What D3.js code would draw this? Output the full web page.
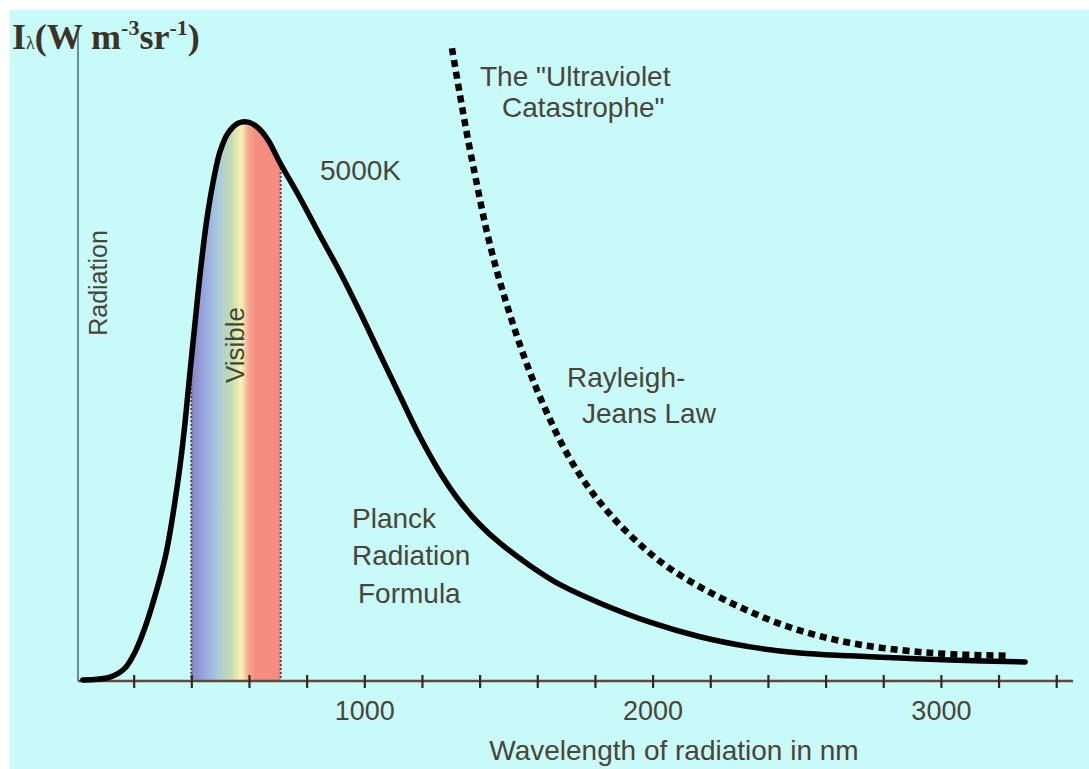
<!DOCTYPE html>
<html>
<head>
<meta charset="utf-8">
<script src="https://cdn.jsdelivr.net/npm/d3@7"></script>
<style>
	body { margin: 0; background: #ffffff; }
	svg text { font-family: 'Liberation Sans', Arial, sans-serif; }
</style>
</head>
<body>
<div id="chart-area"></div>
<script>
// Planck curve at 5000K, wavelength in nm, radiation in arbitrary units
const planckWavelengths = [24, 118, 170, 205, 239, 274, 309, 326, 343, 361, 378, 395, 413, 430, 454, 479, 500, 527, 562, 597, 631, 666, 708, 777, 846, 916, 985, 1054, 1124, 1193, 1263, 1332, 1401, 1471, 1575, 1679, 1818, 1991, 2164, 2338, 2511, 2685, 2858, 3032, 3292];
const planckValues = [0.2, 0.7, 2.3, 5.2, 9.5, 15.2, 22, 26.5, 32, 38.5, 46, 55, 64, 72.5, 82.5, 90, 94.6, 97.8, 99.6, 99.8, 98.8, 96.6, 92.5, 86.25, 79.6, 73, 65.9, 58.4, 50.9, 43.6, 37.2, 32, 27.9, 24.6, 20.6, 17.2, 13.9, 10.5, 7.9, 6.1, 5, 4.5, 4.1, 3.75, 3.4];

// Rayleigh-Jeans law (dashed)
const rjWavelengths = [1304, 1332, 1360, 1391, 1422, 1457, 1495, 1540, 1585, 1637, 1696, 1766, 1845, 1939, 2043, 2164, 2303, 2442, 2581, 2730, 2882, 3032, 3233];
const rjValues = [113, 104.6, 96.6, 88.6, 80.9, 73.75, 67.1, 60, 53.75, 47.5, 41.25, 35.4, 30.2, 25.2, 20.7, 16.8, 13.2, 10.2, 8, 6.4, 5.4, 4.8, 4.5];

// axis
const tickValues = [200, 400, 600, 800, 1000, 1200, 1400, 1600, 1800, 2000, 2200, 2400, 2600, 2800, 3000, 3200, 3400];
const tickLabels = ['1000', '2000', '3000'];
const xDomain = [0, 3460];
const yDomain = [0, 100];

// visible band (nm)
const visibleRange = [400, 710];

class PlanckVis {
	constructor(parentElement) {
		this.parentElement = parentElement;
		this.initVis();
	}

	initVis() {
		let vis = this;

		vis.width = 1089;
		vis.height = 769;
		vis.textColor = '#4a4536';

		vis.svg = d3
			.select('#' + vis.parentElement)
			.append('svg')
			.attr('width', vis.width)
			.attr('height', vis.height);

		// background, white strip on top and left
		vis.svg.append('rect').attr('width', vis.width).attr('height', vis.height).attr('fill', '#ffffff');
		vis.svg
			.append('rect')
			.attr('x', 10)
			.attr('y', 10)
			.attr('width', vis.width - 10)
			.attr('height', vis.height - 10)
			.attr('fill', '#c8fafa');

		vis.x = d3.scaleLinear().domain(xDomain).range([76, 76 + 0.2883 * xDomain[1]]);
		vis.y = d3.scaleLinear().domain(yDomain).range([681, 121]);

		vis.wrangleData();
	}

	wrangleData() {
		let vis = this;

		vis.planck = planckWavelengths.map((d, i) => ({ nm: d, value: planckValues[i] }));
		vis.rj = rjWavelengths.map((d, i) => ({ nm: d, value: rjValues[i] }));

		vis.updateVis();
	}

	updateVis() {
		let vis = this;

		vis.line = d3
			.line()
			.x((d) => vis.x(d.nm))
			.y((d) => vis.y(d.value))
			.curve(d3.curveCatmullRom.alpha(0.5));

		vis.area = d3
			.area()
			.x((d) => vis.x(d.nm))
			.y0(vis.y(0))
			.y1((d) => vis.y(d.value))
			.curve(d3.curveCatmullRom.alpha(0.5));

		vis.drawVisibleBand();
		vis.drawAxes();

		// Rayleigh-Jeans (dashed)
		vis.svg
			.append('path')
			.datum(vis.rj)
			.attr('class', 'rayleigh-jeans')
			.attr('fill', 'none')
			.attr('stroke', '#000')
			.attr('stroke-width', 6.5)
			.attr('stroke-dasharray', '7,5')
			.attr('d', vis.line);

		// Planck curve
		vis.svg
			.append('path')
			.datum(vis.planck)
			.attr('class', 'planck')
			.attr('fill', 'none')
			.attr('stroke', '#000')
			.attr('stroke-width', 5.5)
			.attr('stroke-linecap', 'round')
			.attr('stroke-linejoin', 'round')
			.attr('d', vis.line);

		vis.drawLabels();
	}

	drawVisibleBand() {
		let vis = this;

		let defs = vis.svg.append('defs');

		defs.append('clipPath').attr('id', 'under-curve').append('path').datum(vis.planck).attr('d', vis.area);

		let grad = defs
			.append('linearGradient')
			.attr('id', 'spectrum')
			.attr('gradientUnits', 'userSpaceOnUse')
			.attr('x1', vis.x(visibleRange[0]))
			.attr('x2', vis.x(visibleRange[1]))
			.attr('y1', 0)
			.attr('y2', 0);

		// purple -> blue -> green -> yellow -> red
		[
			[0, '#8a84c4'],
			[0.15, '#98a8e0'],
			[0.3, '#a8cade'],
			[0.45, '#c6dcb0'],
			[0.56, '#fbf1b4'],
			[0.64, '#f4a890'],
			[0.72, '#f48e80'],
			[1, '#f48a80']
		].forEach((s) => {
			grad.append('stop').attr('offset', s[0]).attr('stop-color', s[1]);
		});

		let band = vis.svg.append('g').attr('class', 'visible-band').attr('clip-path', 'url(#under-curve)');

		band
			.append('rect')
			.attr('x', vis.x(visibleRange[0]))
			.attr('y', 0)
			.attr('width', vis.x(visibleRange[1]) - vis.x(visibleRange[0]))
			.attr('height', vis.y(0))
			.attr('fill', 'url(#spectrum)');

		band
			.selectAll('.visible-edge')
			.data(visibleRange)
			.enter()
			.append('line')
			.attr('class', 'visible-edge')
			.attr('x1', (d) => vis.x(d))
			.attr('x2', (d) => vis.x(d))
			.attr('y1', 0)
			.attr('y2', vis.y(0))
			.attr('stroke', '#5a4448')
			.attr('stroke-width', 2)
			.attr('stroke-dasharray', '2,2');
	}

	drawAxes() {
		let vis = this;

		// y axis: plain line, no ticks
		vis.svg
			.append('line')
			.attr('x1', 78)
			.attr('x2', 78)
			.attr('y1', 30)
			.attr('y2', vis.y(0))
			.attr('stroke', '#4f6664')
			.attr('stroke-width', 1.5);

		let xAxis = d3
			.axisBottom(vis.x)
			.tickValues(tickValues)
			.tickSize(7)
			.tickFormat((d) => (tickLabels.includes(String(d)) ? d : ''));

		let g = vis.svg.append('g').attr('class', 'x-axis').attr('transform', `translate(0, ${vis.y(0)})`).call(xAxis);

		g.select('.domain').remove();
		g.insert('line', ':first-child')
			.attr('x1', 78)
			.attr('x2', 1073)
			.attr('stroke', '#5c4c3c')
			.attr('stroke-width', 2.5);

		g.selectAll('.tick line').attr('y1', -6).attr('y2', 7).attr('stroke', '#2f2a22').attr('stroke-width', 2.2);
		g.selectAll('.tick text')
			.attr('y', 39)
			.attr('dy', 0)
			.attr('fill', vis.textColor)
			.style('font-size', '27px')
			.style('font-family', "'Liberation Sans', Arial, sans-serif");

		vis.svg
			.append('text')
			.attr('x', 674)
			.attr('y', 760)
			.attr('text-anchor', 'middle')
			.attr('fill', vis.textColor)
			.style('font-size', '28px')
			.text('Wavelength of radiation in nm');
	}

	drawLabels() {
		let vis = this;

		// y label  I_lambda (W m^-3 sr^-1)
		let yl = vis.svg
			.append('text')
			.attr('x', 12)
			.attr('y', 49)
			.attr('fill', '#3b3426')
			.style('font-family', "'Liberation Serif', 'Times New Roman', serif")
			.style('font-weight', 'bold')
			.style('font-size', '36px');
		yl.append('tspan').text('I');
		yl.append('tspan').style('font-size', '18px').style('font-weight', 'normal').text('λ');
		yl.append('tspan').text('(W m');
		yl.append('tspan').attr('dy', -14).style('font-size', '22px').text('-3');
		yl.append('tspan').attr('dy', 14).text('sr');
		yl.append('tspan').attr('dy', -14).style('font-size', '22px').text('-1');
		yl.append('tspan').attr('dy', 14).text(')');

		let addText = (x, y, txt, opts = {}) => {
			let t = vis.svg
				.append('text')
				.attr('x', x)
				.attr('y', y)
				.attr('fill', opts.color || vis.textColor)
				.attr('text-anchor', opts.anchor || 'start')
				.style('font-size', (opts.size || 28) + 'px')
				.text(txt);
			if (opts.rotate) t.attr('transform', `rotate(-90, ${x}, ${y})`);
			return t;
		};

		addText(107, 283, 'Radiation', { size: 25, anchor: 'middle', rotate: true });
		addText(244, 345, 'Visible', { size: 26, anchor: 'middle', rotate: true, color: '#3d4a3a' });

		addText(320, 180, '5000K');
		addText(480, 86, 'The "Ultraviolet');
		addText(502, 117, 'Catastrophe"');
		addText(567, 387, 'Rayleigh-');
		addText(582, 423, 'Jeans Law');
		addText(352, 528, 'Planck');
		addText(352, 565, 'Radiation');
		addText(358, 603, 'Formula');
	}
}

new PlanckVis('chart-area');
</script>
</body>
</html>
